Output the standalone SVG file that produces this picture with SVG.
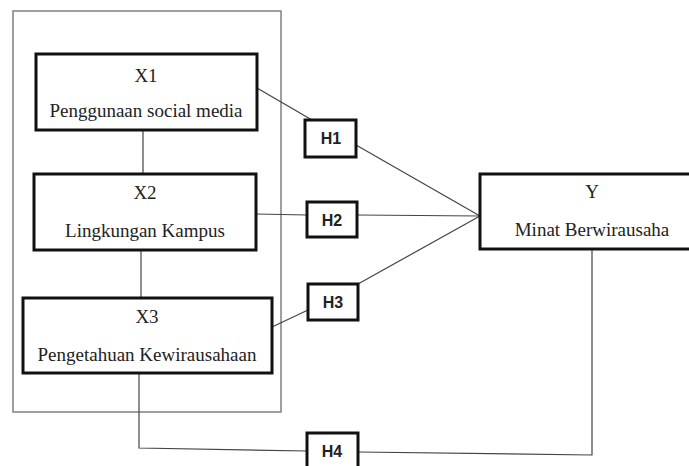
<svg xmlns="http://www.w3.org/2000/svg" width="689" height="466" viewBox="0 0 689 466">
<style>
.frame{fill:none;stroke:#808080;stroke-width:1.5}
.box{fill:#fff;stroke:#111;stroke-width:3}
.hbox{fill:#fff;stroke:#111;stroke-width:3}
.ln{fill:none;stroke:#444;stroke-width:1.2}
.t{font-family:"Liberation Serif","Times New Roman",serif;font-size:19px;fill:#222;text-anchor:middle}
.h{font-family:"Liberation Sans",Arial,sans-serif;font-size:16px;font-weight:bold;fill:#222;text-anchor:middle}
</style>
<rect width="689" height="466" fill="#fff"/>
<rect id="frame" class="frame" x="13" y="11" width="268" height="401"/>
<g id="connectors">
<line class="ln" x1="143" y1="130" x2="143" y2="174"/>
<line class="ln" x1="141" y1="250" x2="141" y2="298"/>
<polyline class="ln" points="139,373 139,448 307,451"/>
<polyline class="ln" points="358,452 592,455 592,249"/>
<line class="ln" x1="257" y1="88" x2="312" y2="120"/>
<line class="ln" x1="356" y1="145" x2="480" y2="216"/>
<line class="ln" x1="256" y1="214" x2="307" y2="215"/>
<line class="ln" x1="357" y1="215" x2="480" y2="216"/>
<line class="ln" x1="358" y1="284" x2="480" y2="216"/>
<line class="ln" x1="272" y1="327" x2="308" y2="310"/>
</g>
<g id="X1">
<rect class="box" x="36" y="54" width="221" height="76"/>
<text class="t" x="146" y="82">X1</text>
<text class="t" x="146" y="117">Penggunaan social media</text>
</g>
<g id="X2">
<rect class="box" x="34" y="174" width="222" height="76"/>
<text class="t" x="145" y="199">X2</text>
<text class="t" x="145" y="237">Lingkungan Kampus</text>
</g>
<g id="X3">
<rect class="box" x="23" y="298" width="249" height="75"/>
<text class="t" x="147" y="323">X3</text>
<text class="t" x="147" y="361">Pengetahuan Kewirausahaan</text>
</g>
<g id="Y">
<rect class="box" x="480" y="174" width="224" height="75"/>
<text class="t" x="592" y="198">Y</text>
<text class="t" x="592" y="236">Minat Berwirausaha</text>
</g>
<g id="H1">
<rect class="hbox" x="305" y="120" width="51" height="37"/>
<text class="h" x="331" y="144">H1</text>
</g>
<g id="H2">
<rect class="hbox" x="307" y="202" width="50" height="35"/>
<text class="h" x="332" y="226">H2</text>
</g>
<g id="H3">
<rect class="hbox" x="308" y="284" width="50" height="36"/>
<text class="h" x="333" y="308">H3</text>
</g>
<g id="H4">
<rect class="hbox" x="307" y="433" width="51" height="36"/>
<text class="h" x="332" y="457">H4</text>
</g>
</svg>
